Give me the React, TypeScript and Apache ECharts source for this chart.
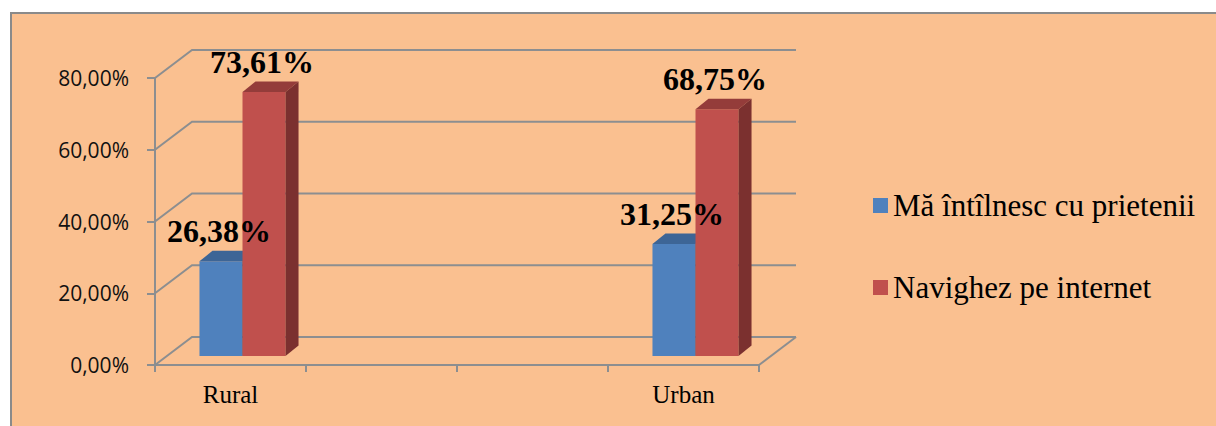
import React, { useEffect, useRef } from "react";
import * as echarts from "echarts";

const categories = ["Rural", "", "", "Urban"];
const seriesNames = ["Mă întîlnesc cu prietenii", "Navighez pe internet"];
const meetFriends = [26.38, null, null, 31.25];
const browseInternet = [73.61, null, null, 68.75];
const yTicks = [0, 20, 40, 60, 80];

const fmt = (v: number) => v.toFixed(2).replace(".", ",") + "%";

const COLORS = [
  { front: "#4F81BD", top: "#3D6596", side: "#2F5078" },
  { front: "#C0504D", top: "#943C3A", side: "#7B302F" },
];
const GRID_COLOR = "#8C8E90";
const BACK = { dx: 37, dy: -28 };
const BAR_OFF = { dx: 12, dy: -9 };
const BAR_DEPTH = { dx: 13, dy: -10.5 };
const SERIF = "Liberation Serif";

function toData(vals: (number | null)[]) {
  return vals
    .map((v, i) => [i, v])
    .filter((d) => d[1] !== null) as number[][];
}

function makeBarRender(idx: number) {
  return (params: any, api: any) => {
    const i = api.value(0);
    const v = api.value(1);
    const top = api.coord([i, v]);
    const base = api.coord([i, 0]);
    const band = api.size([1, 0])[0];
    const w = band * 0.285;
    const cx = top[0] + BAR_OFF.dx;
    const x0 = idx === 0 ? cx - w : cx;
    const x1 = x0 + w;
    const yTop = top[1] + BAR_OFF.dy;
    const yBot = base[1] + BAR_OFF.dy;
    const c = COLORS[idx];
    return {
      type: "group",
      children: [
        {
          type: "rect",
          shape: { x: x0, y: yTop, width: w, height: yBot - yTop },
          style: { fill: c.front },
        },
        {
          type: "polygon",
          shape: {
            points: [
              [x0, yTop],
              [x0 + BAR_DEPTH.dx, yTop + BAR_DEPTH.dy],
              [x1 + BAR_DEPTH.dx, yTop + BAR_DEPTH.dy],
              [x1, yTop],
            ],
          },
          style: { fill: c.top },
        },
        {
          type: "polygon",
          shape: {
            points: [
              [x1, yTop],
              [x1 + BAR_DEPTH.dx, yTop + BAR_DEPTH.dy],
              [x1 + BAR_DEPTH.dx, yBot + BAR_DEPTH.dy],
              [x1, yBot],
            ],
          },
          style: { fill: c.side },
        },
        {
          type: "text",
          z2: 100,
          style: {
            x: (x0 + x1) / 2 - 2,
            y: yTop - 30,
            text: fmt(v),
            align: "center",
            verticalAlign: "middle",
            fill: "#000",
            fontFamily: SERIF,
            fontWeight: "bold",
            fontSize: 32,
          },
        },
      ],
    };
  };
}

export default function App() {
  const ref = useRef<HTMLDivElement>(null);
  useEffect(() => {
    if (!ref.current) return;
    const chart = echarts.init(ref.current, null, { renderer: "svg" });
    chart.setOption({
      animation: false,
      backgroundColor: "#ffffff",
      textStyle: { fontFamily: SERIF, color: "#000" },
      graphic: {
        elements: [
          {
            type: "rect",
            z: -10,
            left: 10,
            top: 12,
            shape: { x: 0, y: 0, width: 1230, height: 440 },
            style: { fill: "#FAC090", stroke: "#8A8A8A", lineWidth: 2 },
          },
        ],
      },
      legend: {
        data: seriesNames,
        orient: "vertical",
        left: 868,
        top: 185,
        itemWidth: 15,
        itemHeight: 15,
        itemGap: 51,
        icon: "rect",
        textStyle: {
          fontFamily: SERIF,
          fontSize: 31,
          color: "#000",
        },
      },
      grid: { left: 155, right: 457, top: 78, bottom: 61 },
      xAxis: {
        type: "category",
        data: categories,
        boundaryGap: true,
        axisLine: { show: true, lineStyle: { color: GRID_COLOR, width: 2 } },
        axisTick: { show: true, interval: 0, length: 7, lineStyle: { color: GRID_COLOR, width: 2 } },
        axisLabel: {
          interval: 0,
          margin: 17,
          fontFamily: SERIF,
          fontSize: 25,
          color: "#000",
        },
        splitLine: { show: false },
      },
      yAxis: {
        type: "value",
        min: 0,
        max: 80,
        interval: 20,
        axisLine: { show: true, lineStyle: { color: GRID_COLOR, width: 2 } },
        axisTick: { show: true, length: 8, lineStyle: { color: GRID_COLOR, width: 2 } },
        axisLabel: {
          margin: 26,
          fontFamily: "Open Sans",
          fontSize: 21,
          color: "#111",
          formatter: (v: number) => fmt(v),
        },
        splitLine: { show: false },
      },
      series: [
        {
          type: "custom",
          name: "frame",
          z: 1,
          silent: true,
          data: yTicks.map((t) => [0, t]),
          renderItem: (params: any, api: any) => {
            const cs = params.coordSys;
            const xL = cs.x;
            const xR = cs.x + cs.width;
            const y = api.coord([0, api.value(1)])[1];
            const children: any[] = [
              {
                type: "polyline",
                shape: {
                  points: [
                    [xL, y],
                    [xL + BACK.dx, y + BACK.dy],
                    [xR + BACK.dx, y + BACK.dy],
                  ],
                },
                style: { stroke: GRID_COLOR, lineWidth: 2, fill: null },
              },
            ];
            if (api.value(1) === 0) {
              children.push({
                type: "line",
                shape: { x1: xR, y1: y, x2: xR + BACK.dx, y2: y + BACK.dy },
                style: { stroke: GRID_COLOR, lineWidth: 2 },
              });
            }
            return { type: "group", children };
          },
        },
        {
          type: "custom",
          name: seriesNames[0],
          z: 2,
          itemStyle: { color: COLORS[0].front },
          data: toData(meetFriends),
          renderItem: makeBarRender(0),
        },
        {
          type: "custom",
          name: seriesNames[1],
          z: 2,
          itemStyle: { color: COLORS[1].front },
          data: toData(browseInternet),
          renderItem: makeBarRender(1),
        },
      ],
    });
    return () => chart.dispose();
  }, []);
  return (
    <div
      ref={ref}
      style={{ position: "fixed", left: 0, top: 0, width: 1216, height: 426 }}
    />
  );
}
